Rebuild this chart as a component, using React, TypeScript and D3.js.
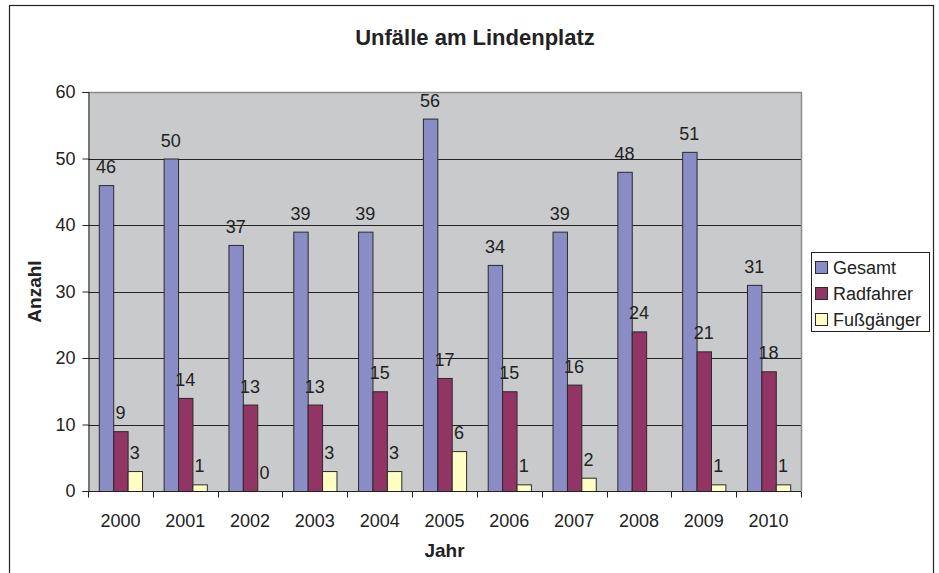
import React, { useEffect, useRef } from 'react';
import * as d3 from 'd3';

const years = ['2000', '2001', '2002', '2003', '2004', '2005', '2006', '2007', '2008', '2009', '2010'];
const seriesNames = ['Gesamt', 'Radfahrer', 'Fußgänger'];
const gesamt = [46, 50, 37, 39, 39, 56, 34, 39, 48, 51, 31];
const radfahrer = [9, 14, 13, 13, 15, 17, 15, 16, 24, 21, 18];
const fussgaenger: (number | null)[] = [3, 1, 0, 3, 3, 6, 1, 2, null, 1, 1];
const yTicks = [0, 10, 20, 30, 40, 50, 60];

const colors = ['#8A8CC6', '#923564', '#FFFFC4'];
const font = '"Liberation Sans", Arial, sans-serif';

const App: React.FC = () => {
  const svgRef = useRef<SVGSVGElement>(null);

  useEffect(() => {
    if (!svgRef.current) return;
    const svg = d3.select(svgRef.current);
    svg.selectAll('*').remove();

    const plot = { left: 88, right: 801, top: 92, bottom: 491 };
    const values = [gesamt, radfahrer, fussgaenger];

    // outer chart frame
    svg.append('rect')
      .attr('x', 9.5).attr('y', 5.5)
      .attr('width', 924).attr('height', 600)
      .attr('fill', '#fff').attr('stroke', '#222').attr('stroke-width', 1.2);

    const x = d3.scaleBand().domain(years).range([plot.left, plot.right]).padding(0);
    const xs = d3.scaleBand().domain(seriesNames).range([0, x.bandwidth()])
      .paddingInner(0).paddingOuter(0.75);
    const y = d3.scaleLinear().domain([0, 60]).range([plot.bottom, plot.top]);

    // plot background
    svg.append('rect')
      .attr('x', plot.left).attr('y', plot.top)
      .attr('width', plot.right - plot.left).attr('height', plot.bottom - plot.top)
      .attr('fill', '#C9CACC');

    // gridlines
    svg.append('g').selectAll('line')
      .data(yTicks.filter(t => t > 0 && t < 60))
      .enter().append('line')
      .attr('x1', plot.left).attr('x2', plot.right)
      .attr('y1', d => Math.round(y(d)) + 0.5).attr('y2', d => Math.round(y(d)) + 0.5)
      .attr('stroke', '#222').attr('stroke-width', 1);

    // top and right border
    svg.append('path')
      .attr('d', `M${plot.left},${plot.top + 0.5}H${plot.right + 0.5}V${plot.bottom}`)
      .attr('fill', 'none').attr('stroke', '#8a8a8a').attr('stroke-width', 1.5);

    // bars
    seriesNames.forEach((name, si) => {
      svg.append('g').selectAll('rect')
        .data(years.map((yr, i) => ({ yr, v: values[si][i] })).filter(d => d.v !== null && d.v > 0))
        .enter().append('rect')
        .attr('x', d => x(d.yr)! + xs(name)! + 0.5)
        .attr('y', d => y(d.v as number) + 0.5)
        .attr('width', xs.bandwidth())
        .attr('height', d => plot.bottom - y(d.v as number))
        .attr('fill', colors[si])
        .attr('stroke', '#2a2a2a').attr('stroke-width', 1);

      svg.append('g').selectAll('text')
        .data(years.map((yr, i) => ({ yr, v: values[si][i] })).filter(d => d.v !== null))
        .enter().append('text')
        .attr('x', d => x(d.yr)! + xs(name)! + xs.bandwidth() / 2)
        .attr('y', d => y(d.v as number) - 12)
        .attr('text-anchor', 'middle')
        .attr('font-family', font).attr('font-size', 18).attr('fill', '#222')
        .text(d => String(d.v));
    });

    // y axis
    const yAxis = svg.append('g')
      .attr('transform', `translate(${plot.left + 0.5},0)`)
      .call(d3.axisLeft(y).tickValues(yTicks).tickSize(6).tickPadding(7));
    yAxis.select('.domain').attr('stroke', '#222');
    yAxis.selectAll('line').attr('stroke', '#222');
    yAxis.selectAll('text').attr('font-family', font).attr('font-size', 18).attr('fill', '#222');

    // x axis
    const xAxisG = svg.append('g').attr('transform', `translate(0,${plot.bottom + 0.5})`);
    xAxisG.append('line')
      .attr('x1', plot.left).attr('x2', plot.right)
      .attr('stroke', '#222');
    xAxisG.selectAll('.tick')
      .data([...years.map(d => x(d)!), plot.right])
      .enter().append('line')
      .attr('x1', d => Math.round(d) + 0.5).attr('x2', d => Math.round(d) + 0.5)
      .attr('y1', 0).attr('y2', 6)
      .attr('stroke', '#222');
    xAxisG.selectAll('text')
      .data(years)
      .enter().append('text')
      .attr('x', d => x(d)! + x.bandwidth() / 2)
      .attr('y', 35)
      .attr('text-anchor', 'middle')
      .attr('font-family', font).attr('font-size', 18).attr('fill', '#222')
      .text(d => d);

    // titles
    svg.append('text')
      .attr('x', 475).attr('y', 45)
      .attr('text-anchor', 'middle')
      .attr('font-family', font).attr('font-size', 22).attr('font-weight', 'bold').attr('fill', '#222')
      .text('Unfälle am Lindenplatz');
    svg.append('text')
      .attr('x', (plot.left + plot.right) / 2).attr('y', 557)
      .attr('text-anchor', 'middle')
      .attr('font-family', font).attr('font-size', 19).attr('font-weight', 'bold').attr('fill', '#222')
      .text('Jahr');
    svg.append('text')
      .attr('transform', `translate(41,${(plot.top + plot.bottom) / 2}) rotate(-90)`)
      .attr('text-anchor', 'middle')
      .attr('font-family', font).attr('font-size', 19).attr('font-weight', 'bold').attr('fill', '#222')
      .text('Anzahl');

    // legend
    const lg = svg.append('g');
    lg.append('rect')
      .attr('x', 811.5).attr('y', 252.5).attr('width', 118).attr('height', 79)
      .attr('fill', '#fff').attr('stroke', '#222');
    const item = lg.selectAll('g.item')
      .data(seriesNames)
      .enter().append('g')
      .attr('transform', (_, i) => `translate(815,${267 + i * 26})`);
    item.append('rect')
      .attr('x', 0.5).attr('y', -5.5).attr('width', 12).attr('height', 12)
      .attr('fill', (_, i) => colors[i]).attr('stroke', '#2a2a2a');
    item.append('text')
      .attr('x', 18).attr('y', 6.5)
      .attr('font-family', font).attr('font-size', 18).attr('fill', '#222')
      .text(d => d);
  }, []);

  return (
    <svg ref={svgRef} width={939} height={573}
      style={{ position: 'absolute', left: 0, top: 0, background: '#fff' }} />
  );
};

export default App;
